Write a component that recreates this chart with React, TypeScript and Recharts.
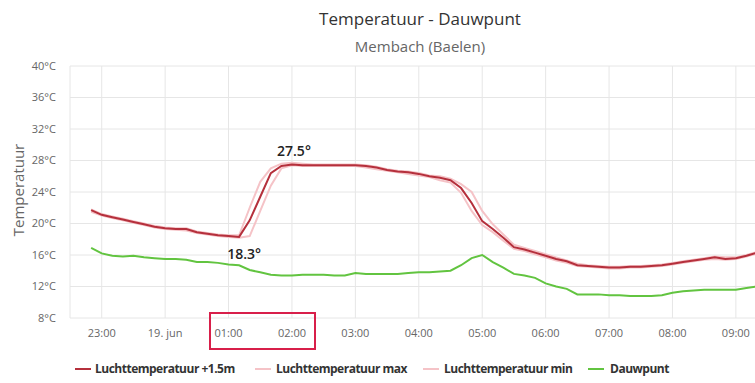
import React from 'react';
import { LineChart, Line, XAxis, YAxis, CartesianGrid } from 'recharts';

const times = [
  '22:50', '23:00', '23:10', '23:20', '23:30', '23:40', '23:50',
  '00:00', '00:10', '00:20', '00:30', '00:40', '00:50',
  '01:00', '01:10', '01:20', '01:30', '01:40', '01:50',
  '02:00', '02:10', '02:20', '02:30', '02:40', '02:50',
  '03:00', '03:10', '03:20', '03:30', '03:40', '03:50',
  '04:00', '04:10', '04:20', '04:30', '04:40', '04:50',
  '05:00', '05:10', '05:20', '05:30', '05:40', '05:50',
  '06:00', '06:10', '06:20', '06:30', '06:40', '06:50',
  '07:00', '07:10', '07:20', '07:30', '07:40', '07:50',
  '08:00', '08:10', '08:20', '08:30', '08:40', '08:50',
  '09:00', '09:10', '09:20',
];

const luchtTemp = [
  21.7, 21.1, 20.8, 20.5, 20.2, 19.9, 19.6,
  19.4, 19.3, 19.3, 18.9, 18.7, 18.5,
  18.4, 18.3, 20.4, 23.4, 26.4, 27.3,
  27.5, 27.4, 27.4, 27.4, 27.4, 27.4,
  27.4, 27.3, 27.1, 26.8, 26.6, 26.5,
  26.3, 26.0, 25.8, 25.5, 24.5, 22.6,
  20.3, 19.3, 18.2, 17.0, 16.7, 16.3,
  15.9, 15.5, 15.2, 14.7, 14.6, 14.5,
  14.4, 14.4, 14.5, 14.5, 14.6, 14.7,
  14.9, 15.1, 15.3, 15.5, 15.7, 15.5,
  15.6, 15.9, 16.3,
];

const luchtMax = [
  21.8, 21.2, 20.9, 20.6, 20.3, 20.0, 19.7,
  19.5, 19.4, 19.4, 19.0, 18.8, 18.6,
  18.5, 18.5, 22.0, 25.3, 27.0, 27.6,
  27.7, 27.6, 27.5, 27.5, 27.5, 27.5,
  27.5, 27.4, 27.2, 26.9, 26.7, 26.6,
  26.4, 26.1, 26.0, 25.7, 25.0, 24.0,
  21.6, 19.9, 18.6, 17.3, 16.9, 16.5,
  16.1, 15.7, 15.3, 14.9, 14.7, 14.6,
  14.5, 14.5, 14.6, 14.6, 14.7, 14.8,
  15.0, 15.2, 15.4, 15.6, 15.8, 15.7,
  15.7, 16.0, 16.4,
];

const luchtMin = [
  21.5, 21.0, 20.7, 20.4, 20.1, 19.8, 19.5,
  19.3, 19.2, 19.1, 18.8, 18.6, 18.4,
  18.3, 18.2, 18.4, 21.6, 24.8, 27.0,
  27.4, 27.3, 27.3, 27.3, 27.3, 27.3,
  27.3, 27.1, 26.9, 26.7, 26.5, 26.3,
  26.1, 25.9, 25.5, 25.2, 23.9, 21.6,
  19.8, 18.9, 17.8, 16.8, 16.5, 16.1,
  15.7, 15.3, 15.0, 14.6, 14.5, 14.4,
  14.3, 14.3, 14.4, 14.4, 14.5, 14.6,
  14.8, 15.0, 15.2, 15.4, 15.5, 15.4,
  15.5, 15.8, 16.2,
];

const dauwpunt = [
  16.9, 16.2, 15.9, 15.8, 15.9, 15.7, 15.6,
  15.5, 15.5, 15.4, 15.1, 15.1, 15.0,
  14.8, 14.7, 14.1, 13.8, 13.5, 13.4,
  13.4, 13.5, 13.5, 13.5, 13.4, 13.4,
  13.7, 13.6, 13.6, 13.6, 13.6, 13.7,
  13.8, 13.8, 13.9, 14.0, 14.7, 15.6,
  16.0, 15.1, 14.4, 13.6, 13.4, 13.1,
  12.4, 12.0, 11.7, 11.0, 11.0, 11.0,
  10.9, 10.9, 10.8, 10.8, 10.8, 10.9,
  11.2, 11.4, 11.5, 11.6, 11.6, 11.6,
  11.6, 11.8, 12.0,
];

// the two points that carry a value label
const labelTimes = { high: '02:00', low: '01:10' };

const xTicks = [-1, 0, 1, 2, 3, 4, 5, 6, 7, 8, 9];
const yTicks = [8, 12, 16, 20, 24, 28, 32, 36, 40];

const series = [
  { key: 'temp', name: 'Luchttemperatuur +1.5m', color: '#b5303c' },
  { key: 'max', name: 'Luchttemperatuur max', color: '#f5c3c7' },
  { key: 'min', name: 'Luchttemperatuur min', color: '#f5c3c7' },
  { key: 'dew', name: 'Dauwpunt', color: '#62c440' },
];

const FONT = '"Open Sans", "Noto Sans", sans-serif';

// hours relative to midnight of 19 jun (22:50 -> -1.17)
const toHours = (t: string) => {
  const [h, m] = t.split(':').map(Number);
  const v = h + m / 60;
  return v >= 12 ? v - 24 : v;
};

const data = times.map((t, i) => ({
  t: toHours(t),
  temp: luchtTemp[i],
  max: luchtMax[i],
  min: luchtMin[i],
  dew: dauwpunt[i],
}));

const highIdx = times.indexOf(labelTimes.high);
const lowIdx = times.indexOf(labelTimes.low);

const formatX = (v: number) => {
  if (v === 0) return '19. jun';
  const h = (v + 24) % 24;
  return `${String(h).padStart(2, '0')}:00`;
};

const PeakLabel = (props: any) => {
  const { x, y, index, value } = props;
  const style = { fontFamily: FONT, fontSize: 14, fontWeight: 600, fill: '#222' };
  if (index === highIdx) {
    return (
      <text x={x + 2} y={y - 8} textAnchor="middle" style={style}>
        {value}°
      </text>
    );
  }
  if (index === lowIdx) {
    return (
      <text x={x + 5} y={y + 22} textAnchor="middle" style={style}>
        {value}°
      </text>
    );
  }
  return <g />;
};

const legendPos = [
  { swatch: 75, text: 95 },
  { swatch: 255, text: 276 },
  { swatch: 423, text: 444 },
  { swatch: 588, text: 610 },
];

export default function App() {
  return (
    <div
      style={{
        position: 'fixed',
        left: 0,
        top: 0,
        width: 755,
        height: 383,
        overflow: 'hidden',
        background: '#fff',
        fontFamily: FONT,
      }}
    >
      <LineChart
        width={757}
        height={383}
        data={data}
        margin={{ top: 66, right: 0, left: 0, bottom: 35 }}
      >
        <CartesianGrid stroke="#e6e6e6" />
        <XAxis
          dataKey="t"
          type="number"
          domain={[-1.5, 9.333]}
          ticks={xTicks}
          tickFormatter={formatX}
          axisLine={false}
          tickLine={false}
          tickSize={0}
          tickMargin={11}
          height={30}
          allowDataOverflow
          tick={{ fill: '#666', fontSize: 11, fontFamily: FONT }}
        />
        <YAxis
          domain={[8, 40]}
          ticks={yTicks}
          tickFormatter={(v) => `${v}°C`}
          axisLine={false}
          tickLine={false}
          tickSize={0}
          tickMargin={14}
          width={70}
          tick={{ fill: '#666', fontSize: 11, fontFamily: FONT }}
        />
        <Line
          dataKey="max"
          name={series[1].name}
          stroke={series[1].color}
          strokeWidth={2}
          dot={false}
          type="linear"
          isAnimationActive={false}
        />
        <Line
          dataKey="min"
          name={series[2].name}
          stroke={series[2].color}
          strokeWidth={2}
          dot={false}
          type="linear"
          isAnimationActive={false}
        />
        <Line
          dataKey="temp"
          name={series[0].name}
          stroke={series[0].color}
          strokeWidth={2}
          dot={false}
          type="linear"
          label={PeakLabel}
          isAnimationActive={false}
        />
        <Line
          dataKey="dew"
          name={series[3].name}
          stroke={series[3].color}
          strokeWidth={2}
          dot={false}
          type="linear"
          isAnimationActive={false}
        />
      </LineChart>

      <div
        style={{
          position: 'absolute',
          left: 420,
          top: 10,
          transform: 'translateX(-50%)',
          fontSize: 17,
          lineHeight: 1,
          color: '#333',
          whiteSpace: 'nowrap',
        }}
      >
        Temperatuur - Dauwpunt
      </div>
      <div
        style={{
          position: 'absolute',
          left: 420,
          top: 39,
          transform: 'translateX(-50%)',
          fontSize: 15,
          lineHeight: 1,
          color: '#666',
          whiteSpace: 'nowrap',
        }}
      >
        Membach (Baelen)
      </div>
      <div
        style={{
          position: 'absolute',
          left: 18,
          top: 190,
          transform: 'translate(-50%, -50%) rotate(-90deg)',
          fontSize: 15,
          lineHeight: 1,
          color: '#666',
          whiteSpace: 'nowrap',
        }}
      >
        Temperatuur
      </div>

      <div
        style={{
          position: 'absolute',
          left: 209,
          top: 312,
          width: 107,
          height: 38,
          border: '2px solid #d81f4a',
          boxSizing: 'border-box',
        }}
      />

      {series.map((s, i) => (
        <React.Fragment key={s.key}>
          <div
            style={{
              position: 'absolute',
              left: legendPos[i].swatch,
              top: 368,
              width: 16,
              height: 2,
              background: s.color,
            }}
          />
          <div
            style={{
              position: 'absolute',
              left: legendPos[i].text,
              top: 363,
              fontSize: 12,
              lineHeight: 1,
              fontWeight: 700,
              letterSpacing: -0.5,
              color: '#333',
              whiteSpace: 'nowrap',
            }}
          >
            {s.name}
          </div>
        </React.Fragment>
      ))}
    </div>
  );
}
